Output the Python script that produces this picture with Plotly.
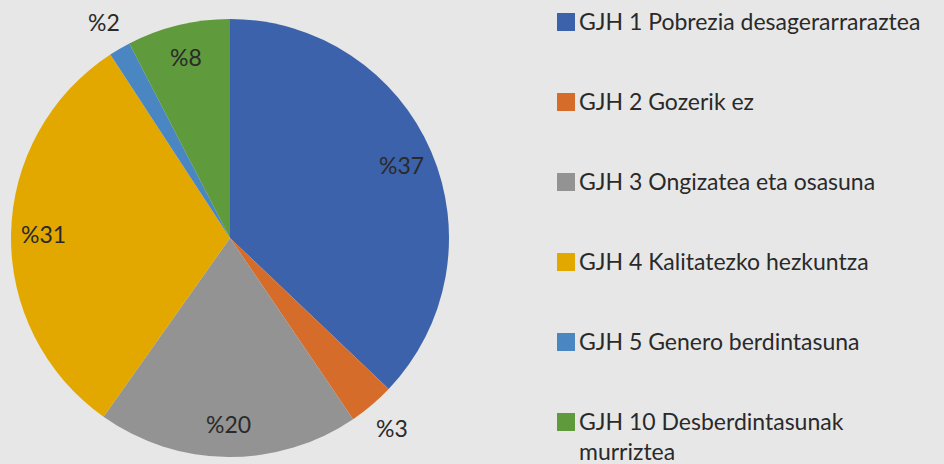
import math
import plotly.graph_objects as go

categories = [
    "GJH 1 Pobrezia desagerarraraztea",
    "GJH 2 Gozerik ez",
    "GJH 3 Ongizatea eta osasuna",
    "GJH 4 Kalitatezko hezkuntza",
    "GJH 5 Genero berdintasuna",
    "GJH 10 Desberdintasunak murriztea",
]
shares = [37.1, 3.4, 19.3, 31.0, 1.6, 7.6]
share_labels = ["%37", "%3", "%20", "%31", "%2", "%8"]
colors = ["#3b62ab", "#d56c2a", "#939393", "#e2a800", "#4a86c2", "#5f9a3c"]

W, H = 944, 464
BG = "#e7e7e7"
FONT = "Lato"
TEXT_COLOR = "#2a2a2a"

# pie geometry in pixels
cx, cy, r = 230, 238, 219

fig = go.Figure(
    go.Pie(
        labels=categories,
        values=shares,
        sort=False,
        direction="clockwise",
        rotation=0,
        marker=dict(colors=colors, line=dict(width=0)),
        textinfo="none",
        hoverinfo="label+percent",
        showlegend=False,
        domain=dict(x=[(cx - r) / W, (cx + r) / W], y=[(H - cy - r) / H, (H - cy + r) / H]),
    )
)

annotations = []
shapes = []

# slice labels placed along each slice's mid-angle
total = sum(shares)
cum = 0.0
for v, lab in zip(shares, share_labels):
    mid = (cum + v / 2) / total * 2 * math.pi
    cum += v
    k = 1.14 if v < 3.5 else 0.85
    px = cx + k * r * math.sin(mid)
    py = cy - k * r * math.cos(mid)
    annotations.append(dict(
        x=px / W, y=1 - py / H, xref="paper", yref="paper",
        text=lab, showarrow=False, xanchor="center", yanchor="middle",
        font=dict(family=FONT, size=23, color=TEXT_COLOR),
    ))

# legend drawn on the right
leg_x0, sq = 557, 18
row0, row_gap = 22, 80
for i, (name, col) in enumerate(zip(categories, colors)):
    yc = row0 + i * row_gap
    shapes.append(dict(
        type="rect", xref="paper", yref="paper",
        x0=leg_x0 / W, x1=(leg_x0 + sq) / W,
        y0=1 - (yc + sq / 2) / H, y1=1 - (yc - sq / 2) / H,
        fillcolor=col, line=dict(width=0),
    ))
    label = name
    if len(name) > 32:
        parts = name.rsplit(" ", 1)
        label = parts[0] + "<br>" + parts[1]
    annotations.append(dict(
        x=(leg_x0 + sq + 2) / W, y=1 - (yc - 17) / H, xref="paper", yref="paper",
        text=label, showarrow=False, xanchor="left", yanchor="top", align="left",
        font=dict(family=FONT, size=23, color=TEXT_COLOR),
    ))

fig.update_layout(
    width=W, height=H,
    margin=dict(l=0, r=0, t=0, b=0),
    paper_bgcolor=BG, plot_bgcolor=BG,
    annotations=annotations, shapes=shapes,
)

fig.write_html(
    "out.html",
    config={"displayModeBar": False},
    post_script="document.body.style.margin='0';document.body.style.overflow='hidden';",
)
